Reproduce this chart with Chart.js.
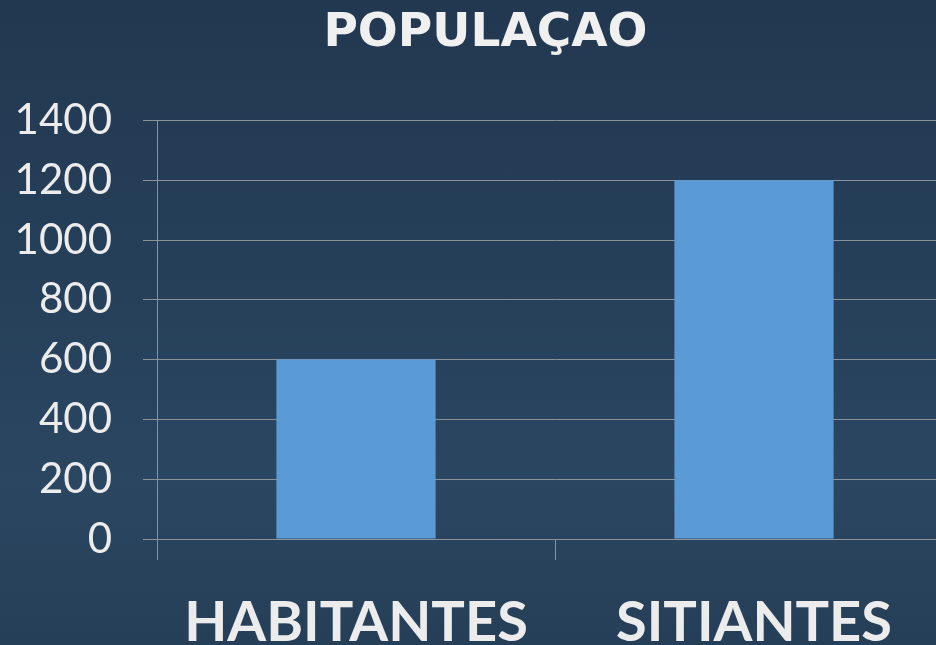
<!DOCTYPE html>
<html>
<head>
<meta charset="utf-8">
<script src="https://cdn.jsdelivr.net/npm/chart.js@4"></script>
<style>
  html, body { margin: 0; padding: 0; }
  body { width: 936px; height: 645px; overflow: hidden;
         background: linear-gradient(180deg, #223850 0%, #26405a 45%, #2b4661 75%, #263f58 100%); }
  #wrap { width: 936px; height: 645px; overflow: hidden; position: relative; }
  canvas { display: block; }
</style>
</head>
<body>
<div id="wrap"><canvas id="c" width="960" height="669"></canvas></div>
<script>
const categories = ["HABITANTES", "SITIANTES"];
const populacao = [600, 1200];
const chartTitle = "POPULAÇAO";

const gridColor = "#8c929a";
const textColor = "#ececec";
const CANVAS_H = 669;

new Chart(document.getElementById("c"), {
  type: "bar",
  data: {
    labels: categories,
    datasets: [{
      data: populacao,
      backgroundColor: "#5b9bd5",
      borderWidth: 0,
      categoryPercentage: 1.0,
      barPercentage: 0.4
    }]
  },
  options: {
    responsive: false,
    devicePixelRatio: 1,
    animation: false,
    layout: { padding: { left: 18, right: 7, top: 0, bottom: 0 } },
    plugins: {
      legend: { display: false },
      tooltip: { enabled: false },
      title: {
        display: true,
        text: chartTitle,
        color: "#f0f0f0",
        font: { family: "DejaVu Sans", size: 47, weight: "bold" },
        padding: { top: 6, bottom: 58 }
      }
    },
    scales: {
      x: {
        offset: true,
        grid: { display: true, drawOnChartArea: false, drawTicks: true, tickLength: 21, color: gridColor, offset: true },
        border: { display: true, color: gridColor },
        ticks: { color: textColor, font: { family: "Lato", size: 56, weight: "bold" }, padding: 29, maxRotation: 0 },
        afterFit: (s) => { s.height = CANVAS_H - 539; }
      },
      y: {
        min: 0, max: 1400,
        ticks: { stepSize: 200, color: textColor, font: { family: "Lato", size: 42 }, padding: 31,
                 callback: (v) => String(v) },
        grid: { color: gridColor, drawTicks: true, tickLength: 14 },
        border: { display: true, color: gridColor },
        afterFit: (s) => { s.width = 139; }
      }
    }
  }
});
</script>
</body>
</html>
